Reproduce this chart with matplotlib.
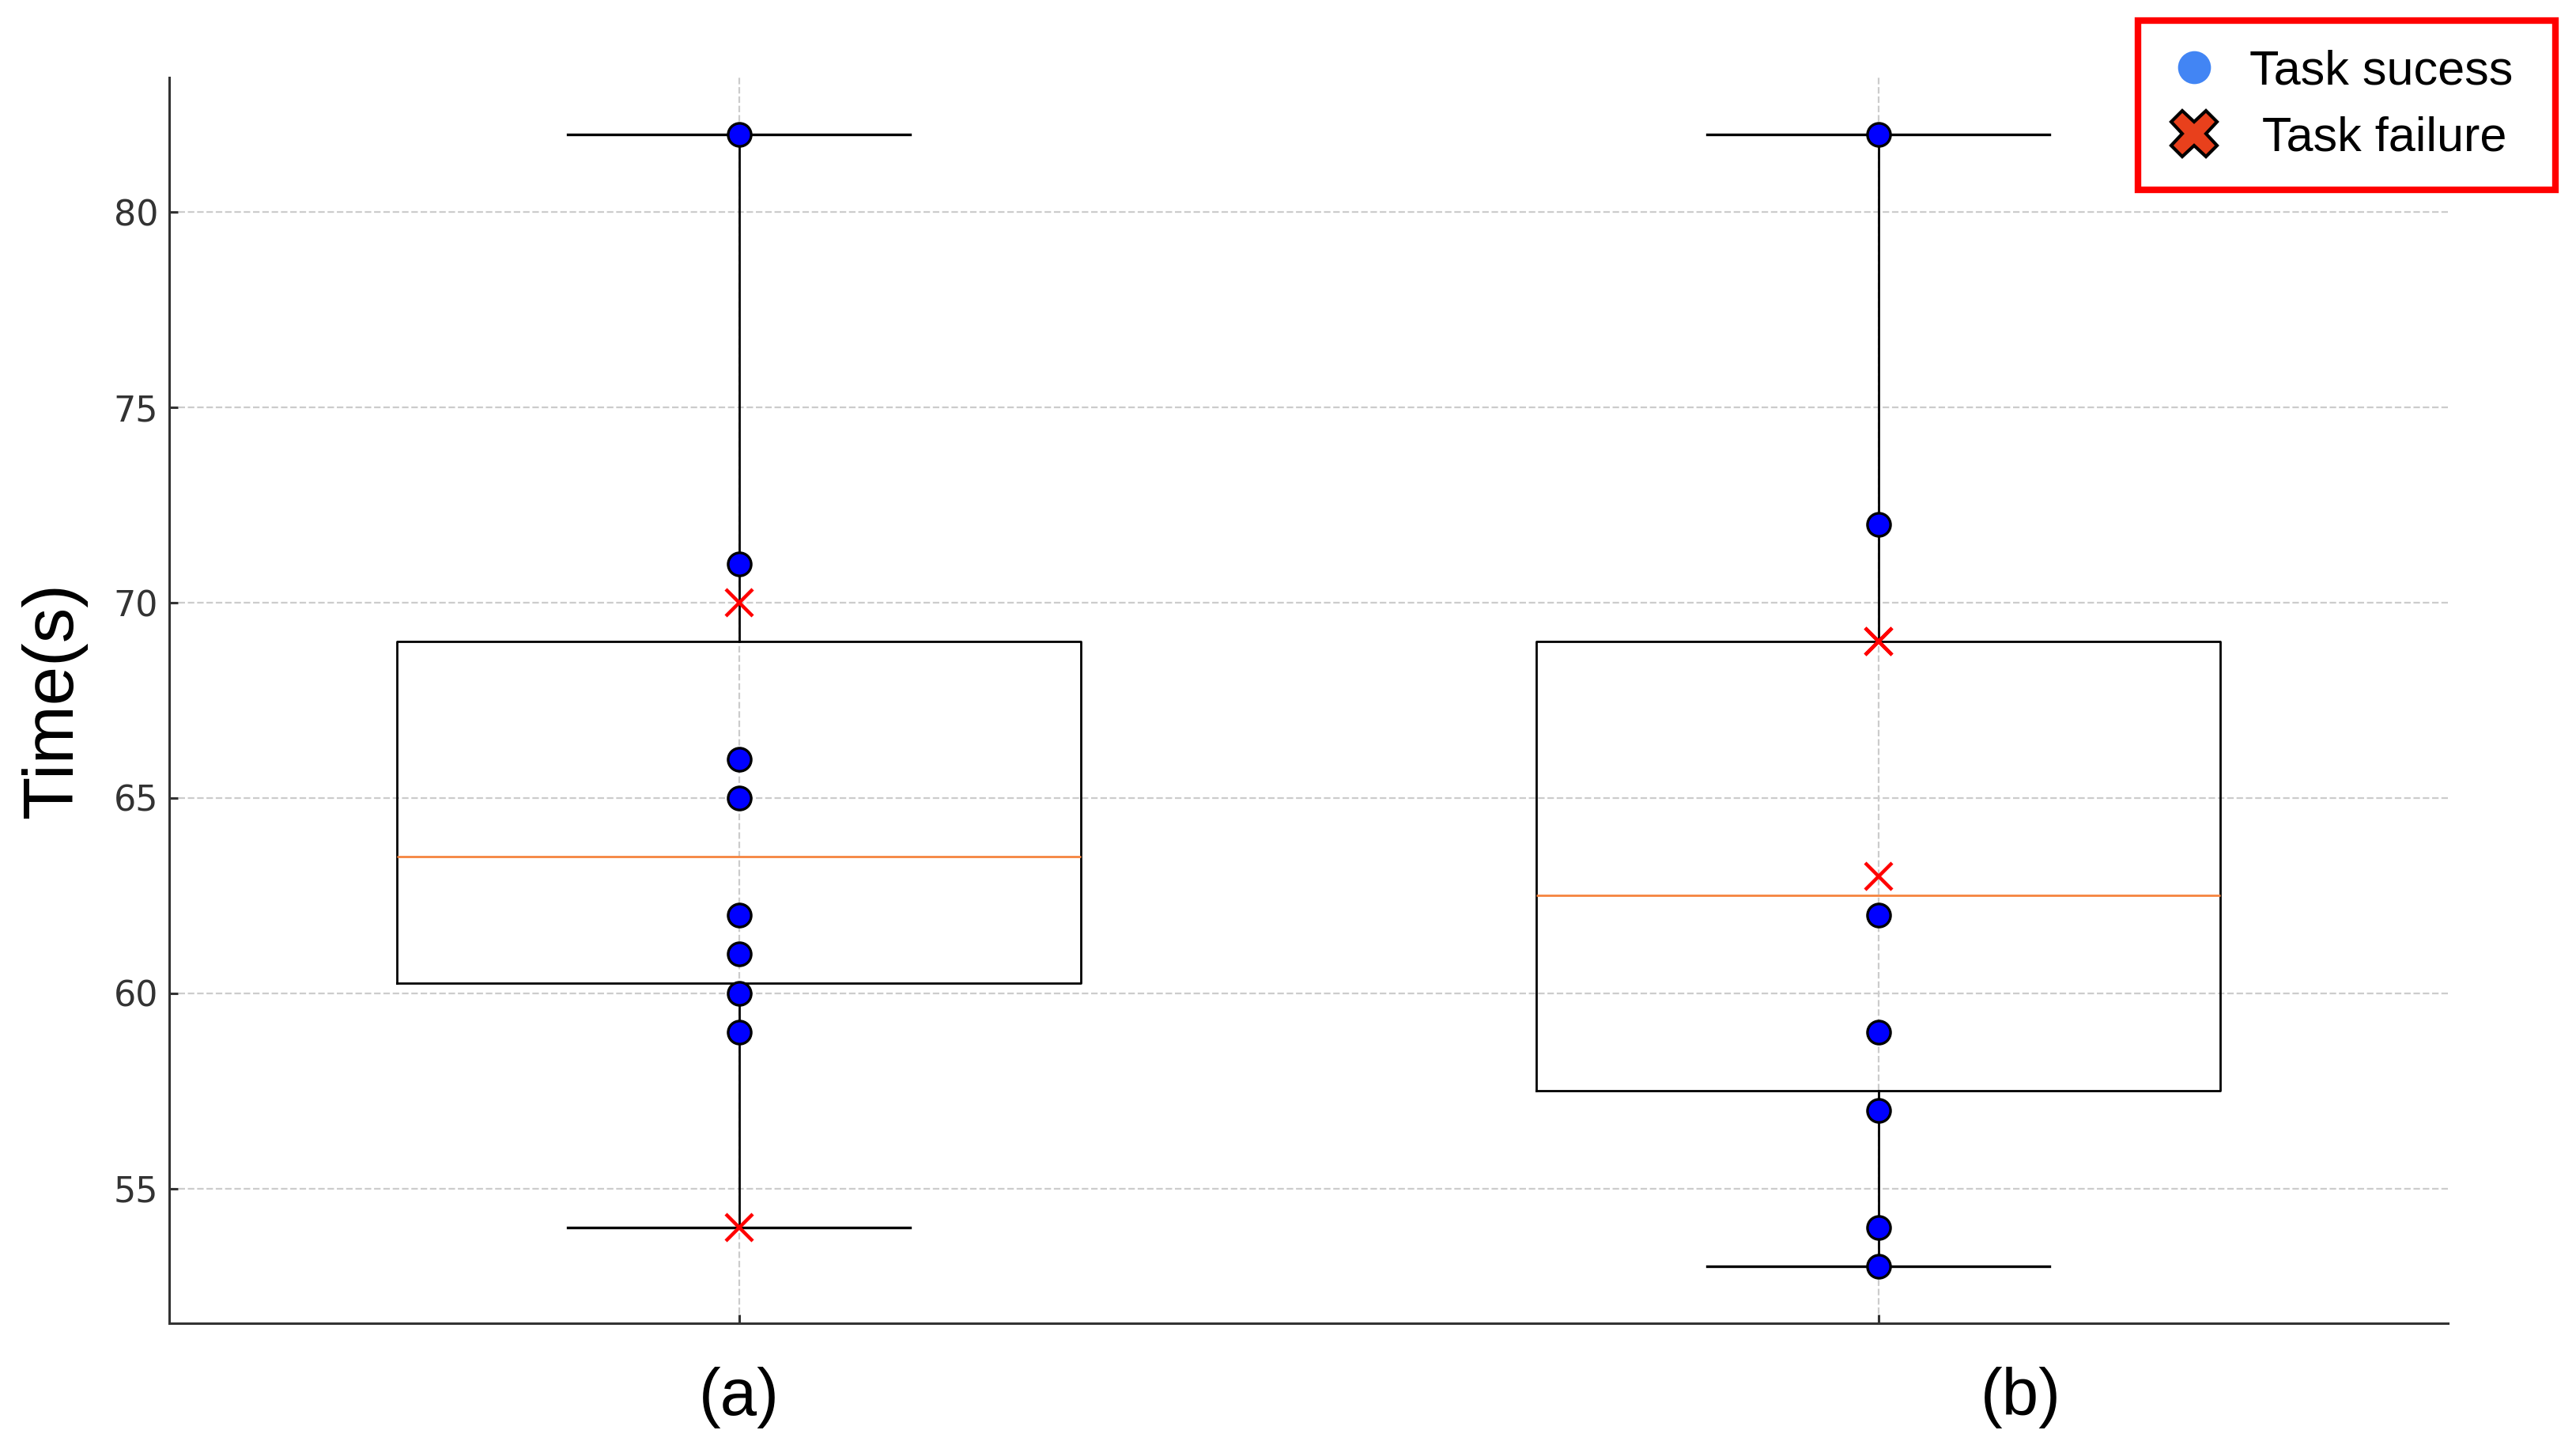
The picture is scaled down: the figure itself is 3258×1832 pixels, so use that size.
import numpy as np
import matplotlib
matplotlib.use("Agg")
import matplotlib.pyplot as plt
from matplotlib.lines import Line2D

# task completion times (s)
groups = ["(a)", "(b)"]
success_a = [82, 71, 66, 65, 62, 61, 60, 59]
failure_a = [70, 54]
success_b = [82, 72, 62, 59, 57, 54, 53]
failure_b = [69, 69, 63]   # two failures at 69 (overlapping)
yticks = [55, 60, 65, 70, 75, 80]

successes = [success_a, success_b]
failures = [failure_a, failure_b]
alldata = [s + f for s, f in zip(successes, failures)]

fig = plt.figure(figsize=(16.29, 9.16), dpi=200)
ax = fig.add_axes([0.0657, 0.0868, 0.8846, 0.8597])

ax.boxplot(alldata, positions=[1, 2], widths=0.6, showfliers=False,
           boxprops=dict(color="black", linewidth=1.0),
           whiskerprops=dict(color="black", linewidth=1.0),
           capprops=dict(color="black", linewidth=1.2),
           medianprops=dict(color="#f5843f", linewidth=1.0))

for i, (s, f) in enumerate(zip(successes, failures)):
    pos = i + 1
    ax.plot([pos] * len(s), s, "o", color="blue", markeredgecolor="black",
            markeredgewidth=1.2, markersize=10.5, zorder=5)
    ax.plot([pos] * len(f), f, "x", color="red", markersize=12,
            markeredgewidth=1.6, zorder=5)

ax.set_xlim(0.5, 2.5)
ax.set_yticks(yticks)
ax.set_xticks([1, 2])
ax.set_xticklabels(["", ""])
ax.grid(True, linestyle="--", color="#cccccc", linewidth=0.8)
ax.set_axisbelow(True)

for side in ["top", "right"]:
    ax.spines[side].set_visible(False)
for side in ["left", "bottom"]:
    ax.spines[side].set_color("#333333")
    ax.spines[side].set_linewidth(1.1)
ax.tick_params(axis="both", direction="in", length=4, width=1.1,
               color="#333333", labelcolor="#333333", labelsize=16, pad=5)

ax.set_ylabel("Time(s)", fontsize=32, family="Liberation Sans", labelpad=12)

# group labels under the axis ((b) sits right of its box in the original)
label_x = [1, 2.125]
for x, g in zip(label_x, groups):
    ax.text(x, -0.06, g, transform=ax.get_xaxis_transform(), ha="center",
            va="center", fontsize=30, family="Liberation Sans")

handles = [
    Line2D([], [], marker="o", linestyle="none", color="#4285f4",
           markersize=14),
    Line2D([], [], marker="X", linestyle="none", markerfacecolor="#e8401c",
           markeredgecolor="black", markeredgewidth=1.5, markersize=21),
]
leg = fig.legend(handles, ["Task sucess ", " Task failure "],
                 loc="upper right", bbox_to_anchor=(0.992, 0.986),
                 borderaxespad=0,
                 prop=dict(family="Liberation Sans", size=22),
                 frameon=True, fancybox=False, framealpha=1,
                 borderpad=0.6, labelspacing=0.45, handletextpad=0.6,
                 handlelength=1.1)
leg.get_frame().set_edgecolor("red")
leg.get_frame().set_linewidth(3)

fig.savefig("out.png", dpi=200)
